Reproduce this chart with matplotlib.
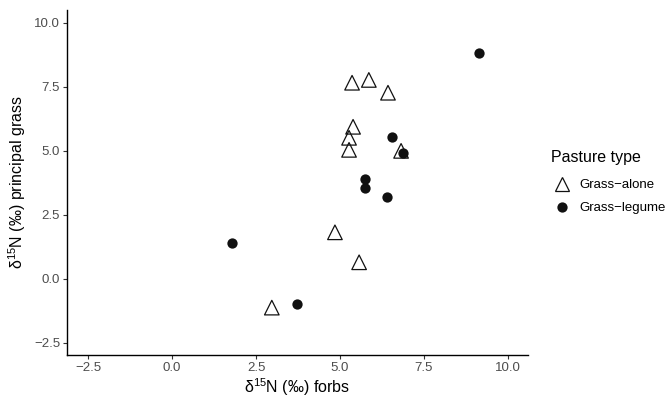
import matplotlib
matplotlib.use("Agg")
import matplotlib.pyplot as plt
from matplotlib.lines import Line2D

plt.rcParams["font.family"] = ["Liberation Sans", "DejaVu Sans"]
plt.rcParams["mathtext.fontset"] = "custom"
plt.rcParams["mathtext.rm"] = "Liberation Sans"
plt.rcParams["mathtext.default"] = "regular"

# delta15N values (per mil)
alone_forbs = [2.97, 4.85, 5.57, 5.36, 5.86, 6.43, 5.39, 5.27, 5.27, 6.82]
alone_grass = [-1.12, 1.82, 0.65, 7.66, 7.77, 7.27, 5.94, 5.51, 5.04, 5.00]

legume_forbs = [1.79, 3.71, 5.74, 5.74, 6.41, 6.54, 6.87, 9.14]
legume_grass = [1.42, -0.99, 3.89, 3.54, 3.21, 5.56, 4.93, 8.83]

ticks = [-2.5, 0.0, 2.5, 5.0, 7.5, 10.0]
tick_labels = ["\u22122.5", "0.0", "2.5", "5.0", "7.5", "10.0"]

W, H = 669, 399
fig = plt.figure(figsize=(W / 100, H / 100), dpi=100)
ax = fig.add_axes([67 / W, 1 - 355 / H, (528 - 67) / W, (355 - 10) / H])

ax.scatter(alone_forbs, alone_grass, marker="^", s=110, facecolors="none",
           edgecolors="#111111", linewidths=0.9, zorder=3)
ax.scatter(legume_forbs, legume_grass, marker="o", s=55, color="#111111",
           linewidths=0, zorder=4)

ax.set_xlim(-3.13, 10.6)
ax.set_ylim(-2.97, 10.5)
ax.set_xticks(ticks)
ax.set_xticklabels(tick_labels)
ax.set_yticks(ticks)
ax.set_yticklabels(tick_labels)

for side in ("top", "right"):
    ax.spines[side].set_visible(False)
for side in ("left", "bottom"):
    ax.spines[side].set_linewidth(1.0)
    ax.spines[side].set_color("black")
ax.tick_params(axis="both", length=3, width=0.8, color="#333333",
               labelcolor="#4D4D4D", labelsize=9.5, pad=2)

ax.set_xlabel("δ$^{15}$N (‰) forbs", fontsize=11.5, color="black", labelpad=2)
ax.set_ylabel("δ$^{15}$N (‰) principal grass", fontsize=11.5, color="black",
              labelpad=4)

handles = [
    Line2D([], [], marker="^", linestyle="none", markersize=10.5,
           markerfacecolor="none", markeredgecolor="#111111",
           markeredgewidth=0.9, label="Grass\u2212alone"),
    Line2D([], [], marker="o", linestyle="none", markersize=7.4,
           markerfacecolor="#111111", markeredgewidth=0, label="Grass\u2212legume"),
]
leg = fig.legend(handles=handles, title="Pasture type", loc="upper left",
                 bbox_to_anchor=(546 / W, 1 - 145 / H), frameon=False,
                 fontsize=9.5, title_fontsize=11.5, handletextpad=0.55,
                 labelspacing=0.8, borderaxespad=0, handlelength=1.6)
leg._legend_box.align = "left"
leg._legend_box.sep = 10

fig.savefig("out.png", dpi=100)
